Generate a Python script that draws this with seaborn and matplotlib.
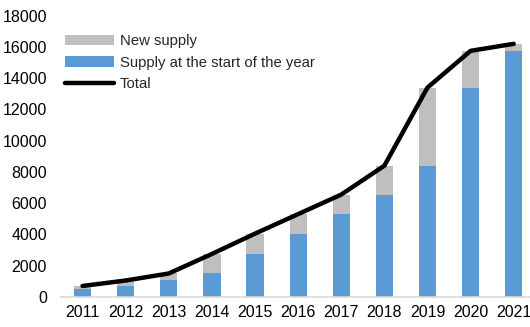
import matplotlib
matplotlib.use("Agg")
import matplotlib.pyplot as plt
import seaborn as sns
import pandas as pd
import numpy as np

years = ["2011", "2012", "2013", "2014", "2015", "2016", "2017", "2018", "2019", "2020", "2021"]
start_supply = [500, 700, 1100, 1500, 2750, 4050, 5300, 6550, 8400, 13400, 15750]
new_supply = [200, 350, 400, 1250, 1300, 1250, 1250, 1850, 5000, 2350, 450]
total = [s + n for s, n in zip(start_supply, new_supply)]

sns.set_theme(style="white")
plt.rcParams['font.family'] = ['Liberation Sans', 'DejaVu Sans']

df = pd.DataFrame({"year": years, "start": start_supply, "new": new_supply, "total": total})

fig = plt.figure(figsize=(5.30, 3.27), dpi=100)
ax = fig.add_axes([0.115, 0.092, 0.895, 0.86])

blue = "#5B9BD5"
gray = "#BFBFBF"

sns.barplot(data=df, x="year", y="total", color=gray, width=0.4, ax=ax,
            label="New supply", saturation=1, edgecolor="none")
sns.barplot(data=df, x="year", y="start", color=blue, width=0.4, ax=ax,
            label="Supply at the start of the year", saturation=1, edgecolor="none")
sns.lineplot(x=np.arange(len(years)), y=df["total"], color="black", lw=3.2, ax=ax, label="Total")

ax.set_xlim(-0.5, 10.5)
ax.set_ylim(0, 18000)
ax.set_yticks(range(0, 18001, 2000))
ax.set_xlabel("")
ax.set_ylabel("")
for s in ["top", "right", "left"]:
    ax.spines[s].set_visible(False)
ax.spines["bottom"].set_color("#D9D9D9")
ax.spines["bottom"].set_linewidth(1.2)
ax.tick_params(axis="both", length=0, labelsize=11.5, colors="black")
ax.tick_params(axis="y", pad=10)
ax.tick_params(axis="x", pad=6)

handles, labels = ax.get_legend_handles_labels()
order = [labels.index("New supply"), labels.index("Supply at the start of the year"), labels.index("Total")]
leg = ax.legend([handles[i] for i in order], [labels[i] for i in order],
                loc="upper left", bbox_to_anchor=(-0.005, 0.955), frameon=False,
                fontsize=10.7, handlelength=3.3, handletextpad=0.4,
                labelspacing=0.5, borderaxespad=0)

fig.savefig("out.png", dpi=100)
